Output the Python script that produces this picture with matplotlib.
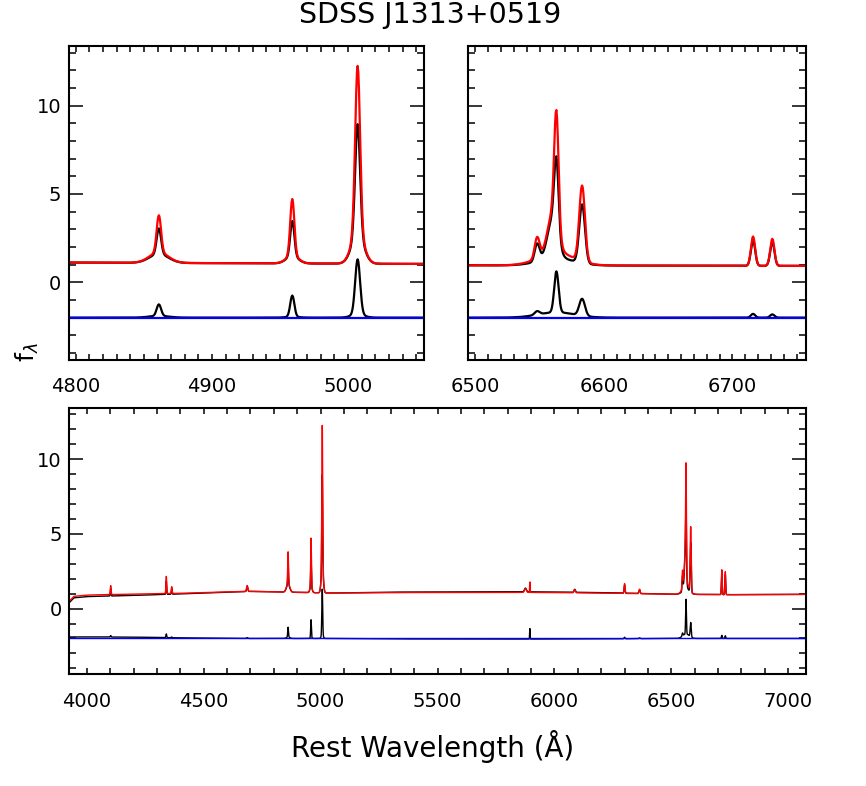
import numpy as np
import matplotlib
matplotlib.use("Agg")
import matplotlib.pyplot as plt
from matplotlib.ticker import MultipleLocator

# continuum level (rest wavelength, flux)
cont_wave = [3925, 3945, 3970, 4000, 4200, 4400, 4600, 4700, 4850, 5050, 5300, 5600, 5900, 6200, 6500, 6750, 7075]
cont_red = [0.50, 0.82, 0.85, 0.90, 0.97, 1.02, 1.12, 1.15, 1.10, 1.04, 1.07, 1.08, 1.08, 1.04, 0.96, 0.93, 0.95]
cont_black = [0.40, 0.72, 0.75, 0.80, 0.88, 0.98, 1.10, 1.15, 1.10, 1.04, 1.10, 1.12, 1.12, 1.07, 0.96, 0.93, 0.95]

# emission line components: centre, width (sigma), peak above continuum for red / black
line_center = [4102, 4340, 4363, 4686,
               4861, 4861, 4959, 4959, 5007, 5007,
               5876, 5895, 6087, 6300, 6364,
               6548, 6563, 6560, 6563, 6583,
               6716, 6731]
line_sigma = [1.5, 1.6, 1.5, 2.5,
              1.6, 7.0, 1.5, 4.5, 1.8, 4.5,
              4.0, 1.0, 3.0, 2.0, 2.5,
              1.9, 1.7, 4.0, 14.0, 2.2,
              1.65, 1.65]
line_red = [0.60, 1.15, 0.45, 0.40,
            2.10, 0.60, 3.20, 0.45, 9.40, 1.80,
            0.25, 0.70, 0.20, 0.65, 0.30,
            1.20, 6.44, 2.20, 0.70, 4.28,
            1.66, 1.53]
line_black = [0.50, 0.90, 0.40, 0.35,
              1.45, 0.50, 2.00, 0.40, 6.30, 1.60,
              0.25, 0.00, 0.20, 0.55, 0.25,
              1.00, 4.12, 2.20, 0.40, 3.32,
              1.45, 1.35]

RESID_OFFSET = -2.0

RED = "#ff0000"
BLUE = "#0000ff"


def build_spectrum(wave, cont, amps):
    flux = np.interp(wave, cont_wave, cont)
    for c, s, a in zip(line_center, line_sigma, amps):
        flux = flux + a * np.exp(-0.5 * ((wave - c) / s) ** 2)
    return flux


def style_axis(ax, xlim, major, minor, ylabels=True):
    ax.set_xlim(*xlim)
    ax.set_ylim(-4.4, 13.4)
    ax.xaxis.set_major_locator(MultipleLocator(major))
    ax.xaxis.set_minor_locator(MultipleLocator(minor))
    ax.yaxis.set_major_locator(MultipleLocator(5))
    ax.yaxis.set_minor_locator(MultipleLocator(1))
    ax.tick_params(axis="both", which="both", direction="in", top=True, right=True,
                   labelsize=14, width=1.1, color="black")
    ax.tick_params(axis="x", which="both", length=4, pad=12.5)
    ax.tick_params(axis="y", which="major", length=10, pad=5.5)
    ax.tick_params(axis="y", which="minor", length=5)
    if not ylabels:
        ax.tick_params(axis="y", labelleft=False)
    for sp in ax.spines.values():
        sp.set_linewidth(1.5)


def draw(ax, wave, red, black, lw):
    ax.plot(wave, black, color="black", lw=lw)
    ax.plot(wave, red, color=RED, lw=lw)
    ax.plot(wave, red - black + RESID_OFFSET, color="black", lw=lw)
    ax.axhline(RESID_OFFSET, color=BLUE, lw=lw)


wave = np.arange(3925.0, 7075.5, 0.5)
red = build_spectrum(wave, cont_red, line_red)
black = build_spectrum(wave, cont_black, line_black)

fig = plt.figure(figsize=(8.66, 7.86), dpi=100)
ax1 = fig.add_axes([0.0797, 0.5420, 0.4103, 0.3999])
ax2 = fig.add_axes([0.5401, 0.5420, 0.3903, 0.3999])
ax3 = fig.add_axes([0.0800, 0.1421, 0.8504, 0.3384])

draw(ax1, wave, red, black, 1.6)
style_axis(ax1, (4795, 5056), 100, 10)

draw(ax2, wave, red, black, 1.6)
style_axis(ax2, (6494, 6757), 100, 10, ylabels=False)

draw(ax3, wave, red, black, 1.0)
style_axis(ax3, (3925, 7075), 500, 100)

fig.text(0.4965, 0.981, "SDSS J1313+0519", ha="center", va="center", fontsize=20.5)
fig.text(0.499, 0.05, "Rest Wavelength (Å)", ha="center", va="center", fontsize=20)
fig.text(0.032, 0.552, r"$\mathrm{f}_{\lambda}$", ha="center", va="center",
         rotation=90, fontsize=18)

fig.savefig("out.png", dpi=100)
